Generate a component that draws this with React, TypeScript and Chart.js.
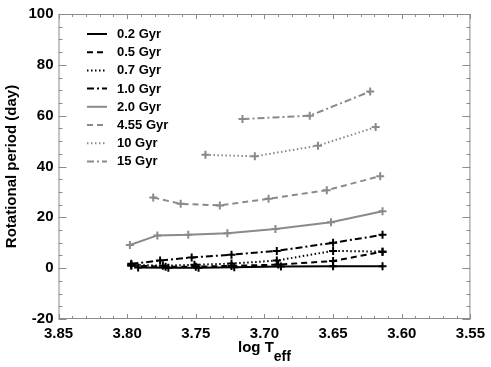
import React, { useEffect, useRef } from "react";
import { Chart, registerables } from "chart.js";

Chart.register(...registerables);

const ageLabels = ["0.2 Gyr", "0.5 Gyr", "0.7 Gyr", "1.0 Gyr", "2.0 Gyr", "4.55 Gyr", "10 Gyr", "15 Gyr"];

const teff02 = [3.792, 3.770, 3.748, 3.722, 3.688, 3.650, 3.614];
const per02 = [0.3, 0.2, 0.2, 0.4, 0.7, 0.75, 0.75];

const teff05 = [3.797, 3.772, 3.750, 3.724, 3.690, 3.650, 3.614];
const per05 = [1.0, 0.6, 0.6, 0.9, 1.4, 2.8, 6.5];

const teff07 = [3.797, 3.774, 3.751, 3.724, 3.691, 3.650, 3.614];
const per07 = [1.3, 1.0, 1.3, 1.8, 3.0, 6.8, 6.5];

const teff10 = [3.797, 3.776, 3.753, 3.724, 3.691, 3.650, 3.614];
const per10 = [1.7, 3.0, 4.2, 5.3, 6.8, 10.0, 13.1];

const teff20 = [3.798, 3.778, 3.7555, 3.727, 3.692, 3.6515, 3.614];
const per20 = [9.1, 12.9, 13.1, 13.7, 15.4, 18.1, 22.4];

const teff455 = [3.781, 3.761, 3.7325, 3.697, 3.6546, 3.6157];
const per455 = [27.8, 25.3, 24.7, 27.3, 30.7, 36.2];

const teff100 = [3.743, 3.707, 3.661, 3.619];
const per100 = [44.6, 44.0, 48.2, 55.5];

const teff150 = [3.716, 3.667, 3.623];
const per150 = [58.7, 60.0, 69.5];

const xTicks = [3.85, 3.8, 3.75, 3.7, 3.65, 3.6, 3.55];
const yTicks = [-20, 0, 20, 40, 60, 80, 100];

const BLACK = "#000000";
const GRAY = "#8a8a8a";
const FRAME = "#8c8c8c";
const FONT = "'Liberation Sans', Arial, sans-serif";

const SOLID: number[] = [];
const DASH = [6, 4];
const DOT = [1.5, 2.5];
const DASHDOT = [7, 3, 2, 3];

const seriesX = [teff02, teff05, teff07, teff10, teff20, teff455, teff100, teff150];
const seriesY = [per02, per05, per07, per10, per20, per455, per100, per150];
const seriesColor = [BLACK, BLACK, BLACK, BLACK, GRAY, GRAY, GRAY, GRAY];
const seriesDash = [SOLID, DASH, DOT, DASHDOT, SOLID, DASH, DOT, DASHDOT];

const framePlugin = {
  id: "idlFrame",
  afterDraw(chart: any) {
    const { ctx, chartArea, scales } = chart;
    const { left, right, top, bottom } = chartArea;
    const xs = scales.x;
    const ys = scales.y;
    ctx.save();
    ctx.strokeStyle = FRAME;
    ctx.lineWidth = 1;
    ctx.setLineDash([]);
    ctx.strokeRect(left + 0.5, top + 0.5, right - left - 1, bottom - top - 1);
    // x ticks (major 0.05, minor 0.01)
    for (let i = 0; i <= 30; i++) {
      const v = 3.55 + i * 0.01;
      const px = Math.round(xs.getPixelForValue(v)) + 0.5;
      const len = i % 5 === 0 ? 5 : 3;
      ctx.beginPath();
      ctx.moveTo(px, bottom);
      ctx.lineTo(px, bottom - len);
      ctx.moveTo(px, top);
      ctx.lineTo(px, top + len);
      ctx.stroke();
    }
    // y ticks (major 20, minor 5)
    for (let i = 0; i <= 24; i++) {
      const v = -20 + i * 5;
      const py = Math.round(ys.getPixelForValue(v)) + 0.5;
      const len = i % 4 === 0 ? 8 : 4;
      ctx.beginPath();
      ctx.moveTo(left, py);
      ctx.lineTo(left + len, py);
      ctx.moveTo(right, py);
      ctx.lineTo(right - len, py);
      ctx.stroke();
    }
    // axis titles
    ctx.fillStyle = "#000";
    ctx.font = `bold 15px ${FONT}`;
    ctx.textBaseline = "alphabetic";
    const main = "log T";
    const sub = "eff";
    const wMain = ctx.measureText(main).width;
    ctx.font = `bold 14px ${FONT}`;
    const wSub = ctx.measureText(sub).width;
    const cx = (left + right) / 2;
    const startX = cx - (wMain + wSub) / 2;
    ctx.font = `bold 15px ${FONT}`;
    ctx.textAlign = "left";
    ctx.fillText(main, startX, 352);
    ctx.font = `bold 14px ${FONT}`;
    ctx.fillText(sub, startX + wMain, 361);

    ctx.save();
    ctx.translate(16, (top + bottom) / 2);
    ctx.rotate(-Math.PI / 2);
    ctx.font = `bold 15px ${FONT}`;
    ctx.textAlign = "center";
    ctx.textBaseline = "alphabetic";
    ctx.fillText("Rotational period (day)", 0, 0);
    ctx.restore();

    // legend
    ctx.font = `bold 13px ${FONT}`;
    ctx.textAlign = "left";
    ctx.textBaseline = "middle";
    chart.data.datasets.forEach((ds: any, i: number) => {
      const y = 34 + i * 18.2;
      ctx.strokeStyle = ds.borderColor;
      ctx.lineWidth = 2;
      ctx.setLineDash(ds.borderDash || []);
      ctx.beginPath();
      ctx.moveTo(87, y);
      ctx.lineTo(107, y);
      ctx.stroke();
      ctx.setLineDash([]);
      ctx.fillStyle = "#000";
      ctx.fillText(ds.label, 117, y + 0.5);
    });
    ctx.restore();
  },
};

export default function App() {
  const ref = useRef<HTMLCanvasElement>(null);
  useEffect(() => {
    if (!ref.current) return;
    const datasets = ageLabels.map((label, i) => ({
      label,
      data: seriesX[i].map((x, j) => ({ x, y: seriesY[i][j] })),
      borderColor: seriesColor[i],
      backgroundColor: seriesColor[i],
      borderDash: seriesDash[i],
      borderWidth: 2,
      pointStyle: "cross",
      pointRadius: 4,
      pointBorderWidth: 2,
      pointBorderColor: seriesColor[i],
      pointHoverRadius: 4,
      showLine: true,
      tension: 0,
      fill: false,
    }));
    const chart = new Chart(ref.current, {
      type: "scatter",
      data: { datasets },
      options: {
        animation: false,
        responsive: false,
        maintainAspectRatio: false,
        devicePixelRatio: 1,
        layout: { padding: { top: 2.5, right: 15, left: 0, bottom: 0 } },
        plugins: { legend: { display: false }, tooltip: { enabled: false } },
        scales: {
          x: {
            type: "linear",
            reverse: true,
            min: 3.55,
            max: 3.85,
            afterFit: (s: any) => { s.height = 48; },
            afterBuildTicks: (s: any) => { s.ticks = xTicks.map((v) => ({ value: v })); },
            ticks: {
              color: "#000",
              font: { family: FONT, size: 15, weight: "bold" },
              padding: 6,
              maxRotation: 0,
              autoSkip: false,
              callback: (v: any) => Number(v).toFixed(2),
            },
            grid: { display: false, drawTicks: false },
            border: { display: false },
          },
          y: {
            type: "linear",
            min: -20,
            max: 100,
            afterFit: (s: any) => { s.width = 58.5; },
            afterBuildTicks: (s: any) => { s.ticks = yTicks.map((v) => ({ value: v })); },
            ticks: {
              color: "#000",
              font: { family: FONT, size: 15, weight: "bold" },
              padding: 5,
              autoSkip: false,
              callback: (v: any) => String(v),
            },
            grid: { display: false, drawTicks: false },
            border: { display: false },
          },
        },
      },
      plugins: [framePlugin],
    } as any);
    return () => chart.destroy();
  }, []);
  return (
    <div style={{ position: "fixed", left: 0, top: 0, width: 491, height: 367, background: "#fff" }}>
      <canvas ref={ref} width={491} height={367} style={{ width: 491, height: 367, display: "block" }} />
    </div>
  );
}
